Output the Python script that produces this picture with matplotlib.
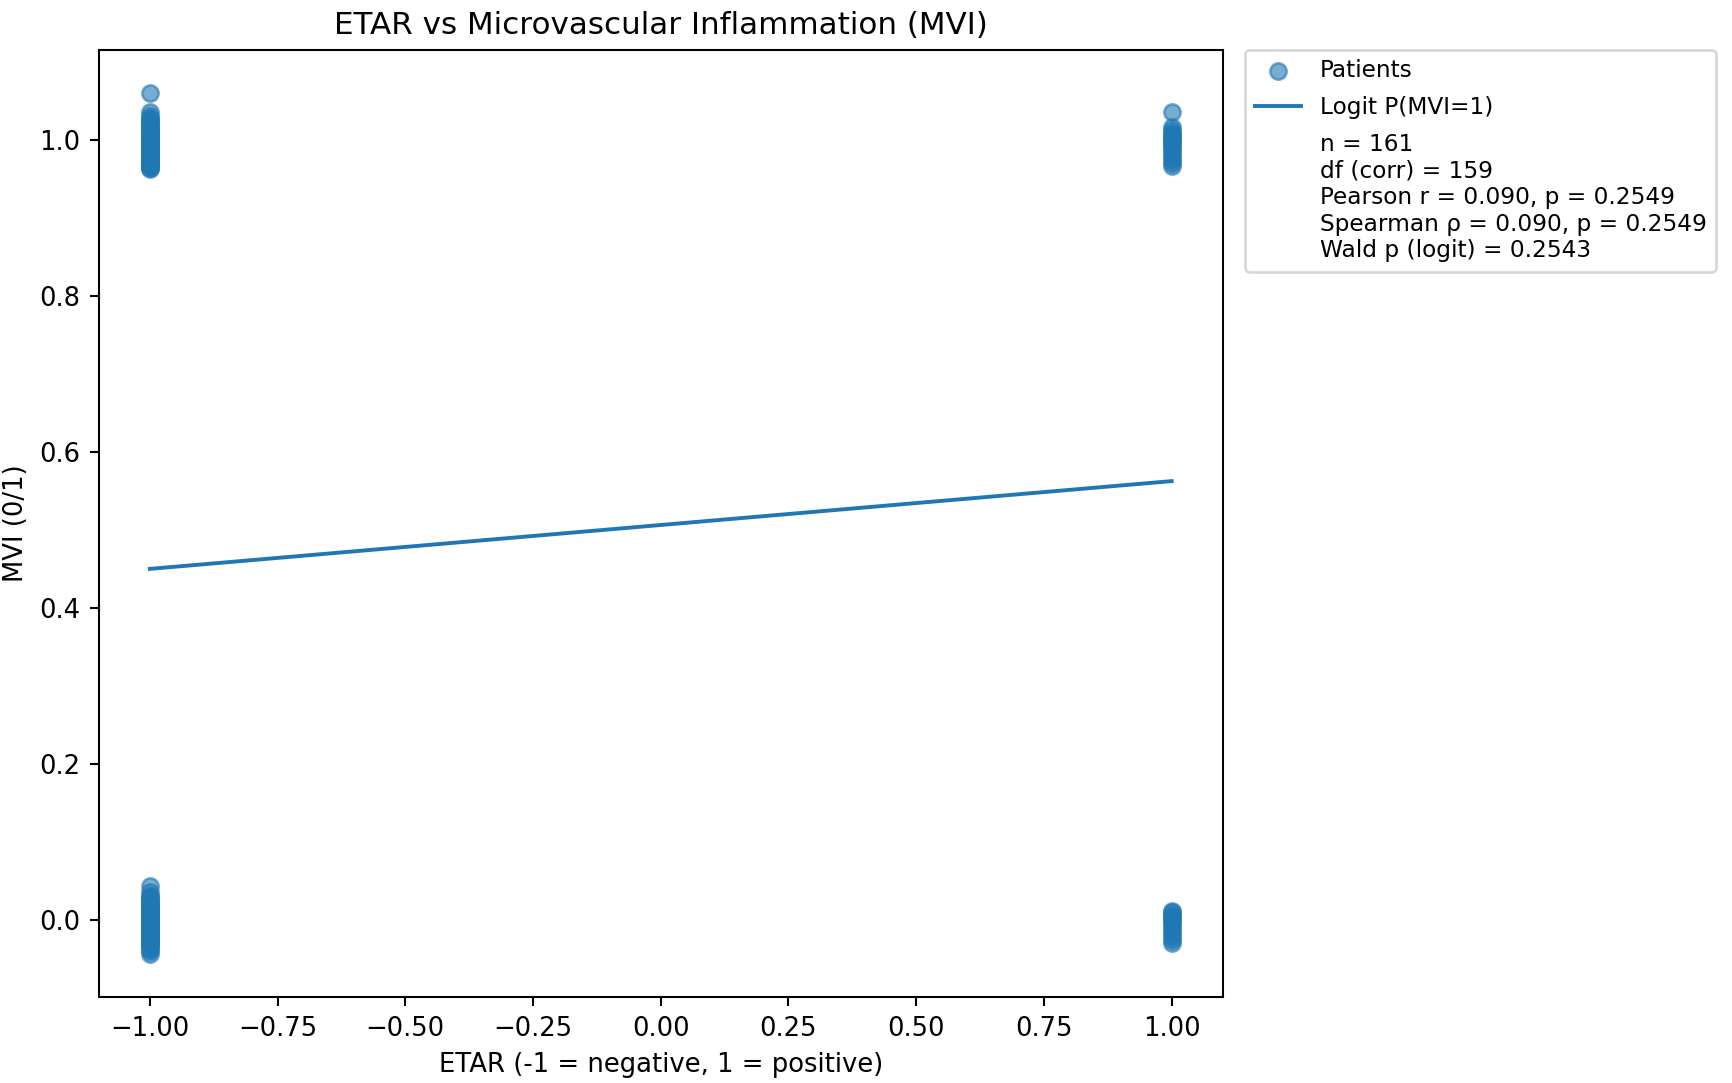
import numpy as np
import matplotlib.pyplot as plt

# ETAR groups (-1 = negative, 1 = positive) and MVI outcome with small vertical jitter
neg_mvi1 = [1.060, 1.035, 1.030, 1.027, 1.024, 1.021, 1.019, 1.017, 1.015, 1.013,
            1.011, 1.009, 1.008, 1.006, 1.005, 1.004, 1.003, 1.002, 1.001, 1.000,
            0.999, 0.998, 0.997, 0.996, 0.995, 0.994, 0.993, 0.992, 0.990, 0.989,
            0.988, 0.987, 0.985, 0.984, 0.983, 0.982, 0.981, 0.980, 0.978, 0.977,
            0.976, 0.975, 0.974, 0.973, 0.972, 0.971, 0.970, 0.969, 0.968, 0.967,
            0.966, 0.965, 0.964, 0.963, 1.026, 1.018, 1.007, 0.986]
neg_mvi0 = [0.044, 0.036, 0.031, 0.027, 0.024, 0.021, 0.019, 0.017, 0.015, 0.013,
            0.011, 0.010, 0.009, 0.008, 0.007, 0.006, 0.005, 0.004, 0.003, 0.002,
            0.001, 0.000, -0.001, -0.002, -0.003, -0.004, -0.005, -0.006, -0.007, -0.008,
            -0.009, -0.010, -0.011, -0.012, -0.013, -0.014, -0.015, -0.016, -0.017, -0.018,
            -0.019, -0.020, -0.021, -0.022, -0.023, -0.024, -0.025, -0.026, -0.028, -0.030,
            -0.032, -0.034, -0.037, -0.040, -0.044, 0.026, 0.020, 0.014, 0.012, 0.004,
            -0.001, -0.006, -0.011, -0.016, -0.020, -0.024, -0.027, 0.030, 0.018, -0.009,
            -0.029]
pos_mvi1 = [1.035, 1.016, 1.012, 1.009, 1.006, 1.004, 1.002, 1.000, 0.998, 0.995,
            0.992, 0.989, 0.986, 0.982, 0.978, 0.974, 0.970, 0.966]
pos_mvi0 = [0.012, 0.010, 0.007, 0.004, 0.002, 0.000, -0.003, -0.006, -0.010, -0.014,
            -0.018, -0.022, -0.026, -0.030]

# fitted logistic probabilities at ETAR = -1 and 1
line_x = [-1, 1]
line_y = [0.450, 0.5625]

stats_text = '\n'.join(['n = 161',
                        'df (corr) = 159',
                        'Pearson r = 0.090, p = 0.2549',
                        'Spearman ρ = 0.090, p = 0.2549',
                        'Wald p (logit) = 0.2543'])

x = [-1] * (len(neg_mvi1) + len(neg_mvi0)) + [1] * (len(pos_mvi1) + len(pos_mvi0))
y = neg_mvi1 + neg_mvi0 + pos_mvi1 + pos_mvi0

DPI = 186
fig = plt.figure(figsize=(1732 / DPI, 1083 / DPI), dpi=DPI)
ax = fig.add_subplot(111)
fig.subplots_adjust(left=0.057, right=0.706, top=0.954, bottom=0.079)

ax.scatter(x, y, alpha=0.6, s=40, label='Patients')
ax.plot(line_x, line_y, label='Logit P(MVI=1)')
ax.plot([], [], ' ', label=stats_text)

ax.set_title('ETAR vs Microvascular Inflammation (MVI)')
ax.set_xlabel('ETAR (-1 = negative, 1 = positive)')
ax.set_ylabel('MVI (0/1)')
ax.set_xticks(np.arange(-1.0, 1.01, 0.25))
ax.legend(loc='upper left', bbox_to_anchor=(1.02, 1.0), borderaxespad=0,
          fontsize=9, labelspacing=0.6)

fig.savefig('out.png', dpi=DPI)
